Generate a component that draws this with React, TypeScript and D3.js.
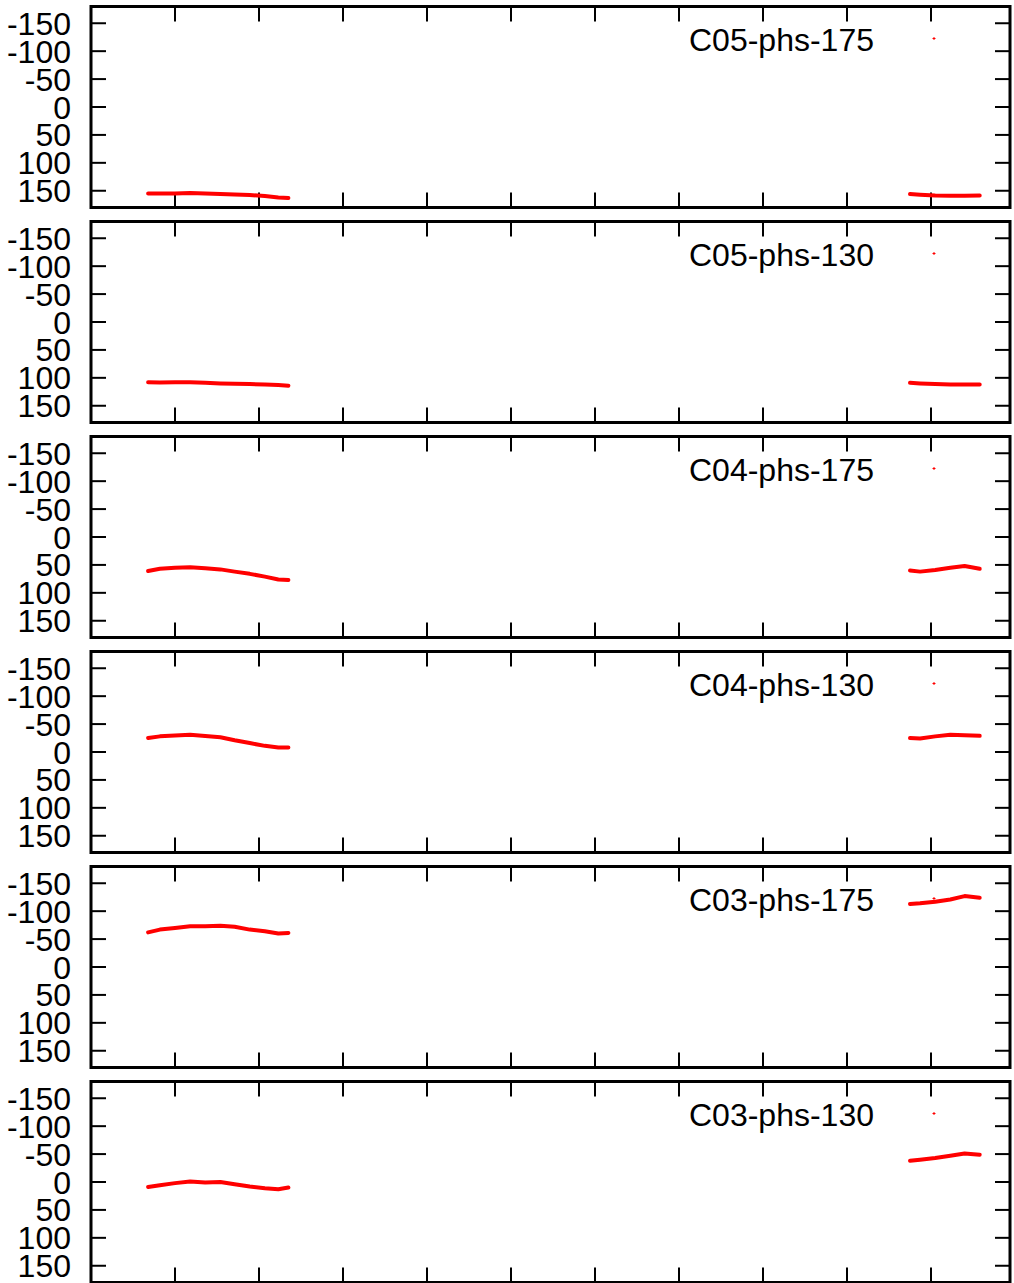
import { line, scaleLinear } from "d3";

const width = 1014;
const height = 1283;
const left = 91;
const right = 1010;
const panelTop = 6.5;
const panelHeight = 201;
const panelStep = 215;
const tickLen = 15;

// sample positions (x units, one unit per major tick)
const leftX = [0.68, 0.82, 1.0, 1.18, 1.36, 1.54, 1.71, 1.89, 2.07, 2.23, 2.35];
const rightX = [9.75, 9.87, 10.05, 10.23, 10.4, 10.58];

const labels = [
  "C05-phs-175",
  "C05-phs-130",
  "C04-phs-175",
  "C04-phs-130",
  "C03-phs-175",
  "C03-phs-130",
];

const leftVals = [
  [155, 155, 155, 154, 155, 156, 156.5, 157.5, 159.5, 162, 163],
  [108, 108.5, 108, 108, 109, 110, 110.5, 111, 112, 113, 114],
  [61, 57, 55, 54, 56, 58, 62, 66, 71, 76, 77],
  [-25, -28, -29.5, -31, -28.5, -26.5, -21, -16, -11, -8, -8],
  [-62, -67, -70, -73, -73, -74, -72, -67, -64, -60, -61],
  [9, 6, 2, -1, 1, 0, 4, 8, 11, 13, 10],
];

const rightVals = [
  [156, 157, 158.5, 159, 159, 158.5],
  [109, 110, 111, 112, 112, 112],
  [60, 62, 59, 55, 52, 57],
  [-25, -24, -28, -31, -30, -29],
  [-113, -114, -117, -121, -127, -124],
  [-38, -40, -43, -47, -51, -49],
];

const yTicks = [-150, -100, -50, 0, 50, 100, 150];
const xTicks = [1, 2, 3, 4, 5, 6, 7, 8, 9, 10];

const x = scaleLinear().domain([0, (right - left) / 84]).range([left, right]);

function Panel({ i }: { i: number }) {
  const top = panelTop + i * panelStep;
  const y = scaleLinear().domain([-180, 180]).range([top, top + panelHeight]);
  const path = line<[number, number]>()
    .x((d) => x(d[0]))
    .y((d) => y(d[1]));
  const seg1 = leftX.map((v, j) => [v, leftVals[i][j]] as [number, number]);
  const seg2 = rightX.map((v, j) => [v, rightVals[i][j]] as [number, number]);
  const bottom = top + panelHeight;
  const keyX = 934;
  const keyY = top + 32;

  return (
    <g>
      {yTicks.map((t) => (
        <g key={t}>
          <line x1={left} x2={left + tickLen} y1={y(t)} y2={y(t)} stroke="#000" strokeWidth={2} />
          <line x1={right} x2={right - tickLen} y1={y(t)} y2={y(t)} stroke="#000" strokeWidth={2} />
          <text x={71} y={y(t)} dy="0.36em" textAnchor="end" fontSize={32}>
            {t}
          </text>
        </g>
      ))}
      {xTicks.map((t) => (
        <g key={t}>
          <line x1={x(t)} x2={x(t)} y1={top} y2={top + tickLen} stroke="#000" strokeWidth={2} />
          <line x1={x(t)} x2={x(t)} y1={bottom} y2={bottom - tickLen} stroke="#000" strokeWidth={2} />
        </g>
      ))}
      <text x={874} y={top + 44} textAnchor="end" fontSize={32}>
        {labels[i]}
      </text>
      <path d={`M${keyX - 1.5},${keyY}h3M${keyX},${keyY - 1.5}v3`} stroke="#ff0000" strokeWidth={1} />
      <path d={path(seg1) ?? ""} fill="none" stroke="#ff0000" strokeWidth={4} strokeLinejoin="round" strokeLinecap="round" />
      <path d={path(seg2) ?? ""} fill="none" stroke="#ff0000" strokeWidth={4} strokeLinejoin="round" strokeLinecap="round" />
      <rect x={left} y={top} width={right - left} height={panelHeight} fill="none" stroke="#000" strokeWidth={3} />
    </g>
  );
}

function App() {
  return (
    <svg
      width={width}
      height={height}
      style={{ position: "absolute", left: 0, top: 0, background: "#fff" }}
      fontFamily="'Liberation Sans', Arial, sans-serif"
    >
      {labels.map((_, i) => (
        <Panel key={i} i={i} />
      ))}
    </svg>
  );
}

export default App;
